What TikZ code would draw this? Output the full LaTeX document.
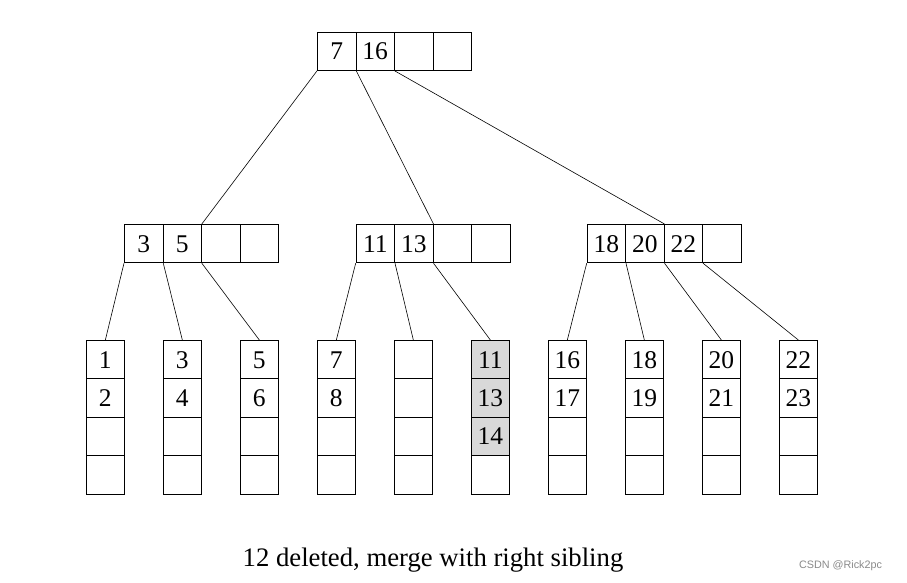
\documentclass[tikz,border=0pt]{standalone}
\usepackage{fontspec}
\setmainfont{Liberation Serif}
\newfontfamily\wmfont{Liberation Sans}
\definecolor{hl}{HTML}{D9D9D9}
\definecolor{wm}{HTML}{8A8A8A}
\begin{document}
\begin{tikzpicture}[x=1pt,y=-1pt,
  cell/.style={draw, line width=0.8pt, minimum width=38.5pt, minimum height=38.4pt,
    inner sep=0pt, anchor=north west, text height=17pt, text depth=0pt,
    font=\fontsize{25.5}{25.5}\selectfont},
  hot/.style={fill=hl},
  link/.style={line width=0.6pt}]
\useasboundingbox (0,0) rectangle (907,582);
% root
\node[cell] (r1) at (317,31.7) {7};
\node[cell] (r2) at (355.5,31.7) {16};
\node[cell] (r3) at (394,31.7) {};
\node[cell] (r4) at (432.5,31.7) {};
% internal nodes
\node[cell] (p1) at (124,224) {3};
\node[cell] (p2) at (162.5,224) {5};
\node[cell] (p3) at (201,224) {};
\node[cell] (p4) at (239.5,224) {};
\node[cell] (q1) at (355.7,224) {11};
\node[cell] (q2) at (394.2,224) {13};
\node[cell] (q3) at (432.7,224) {};
\node[cell] (q4) at (471.2,224) {};
\node[cell] (s1) at (586.7,224) {18};
\node[cell] (s2) at (625.2,224) {20};
\node[cell] (s3) at (663.7,224) {22};
\node[cell] (s4) at (702.2,224) {};
% leaves
\foreach \k/\a/\b/\c/\d/\st in {1/1/2///,2/3/4///,3/5/6///,4/7/8///,5////,6/11/13/14//,7/16/17///,8/18/19///,9/20/21///,10/22/23///}{
  \pgfmathsetmacro{\lx}{85.7+77*(\k-1)}
  \ifnum\k=6
    \node[cell,hot] (L\k-1) at (\lx,340) {\a};
    \node[cell,hot] (L\k-2) at (\lx,378.4) {\b};
    \node[cell,hot] (L\k-3) at (\lx,416.8) {\c};
  \else
    \node[cell] (L\k-1) at (\lx,340) {\a};
    \node[cell] (L\k-2) at (\lx,378.4) {\b};
    \node[cell] (L\k-3) at (\lx,416.8) {\c};
  \fi
  \node[cell] (L\k-4) at (\lx,455.2) {\d};
}
% root links
\draw[link] (r1.south west) -- (p2.north east);
\draw[link] (r1.south east) -- (q2.north east);
\draw[link] (r2.south east) -- (s2.north east);
% internal links
\draw[link] (p1.south west) -- (L1-1.north);
\draw[link] (p1.south east) -- (L2-1.north);
\draw[link] (p2.south east) -- (L3-1.north);
\draw[link] (q1.south west) -- (L4-1.north);
\draw[link] (q1.south east) -- (L5-1.north);
\draw[link] (q2.south east) -- (L6-1.north);
\draw[link] (s1.south west) -- (L7-1.north);
\draw[link] (s1.south east) -- (L8-1.north);
\draw[link] (s2.south east) -- (L9-1.north);
\draw[link] (s3.south east) -- (L10-1.north);
% caption
\node[anchor=base, font=\fontsize{26.7}{26.7}\selectfont, inner sep=0pt] (cap) at (433,566) {12 deleted, merge with right sibling};
\node[anchor=base, font=\wmfont\fontsize{10.8}{10.8}\selectfont, text=wm, inner sep=0pt] (wmk) at (840.5,568) {CSDN @Rick2pc};
\end{tikzpicture}
\end{document}
